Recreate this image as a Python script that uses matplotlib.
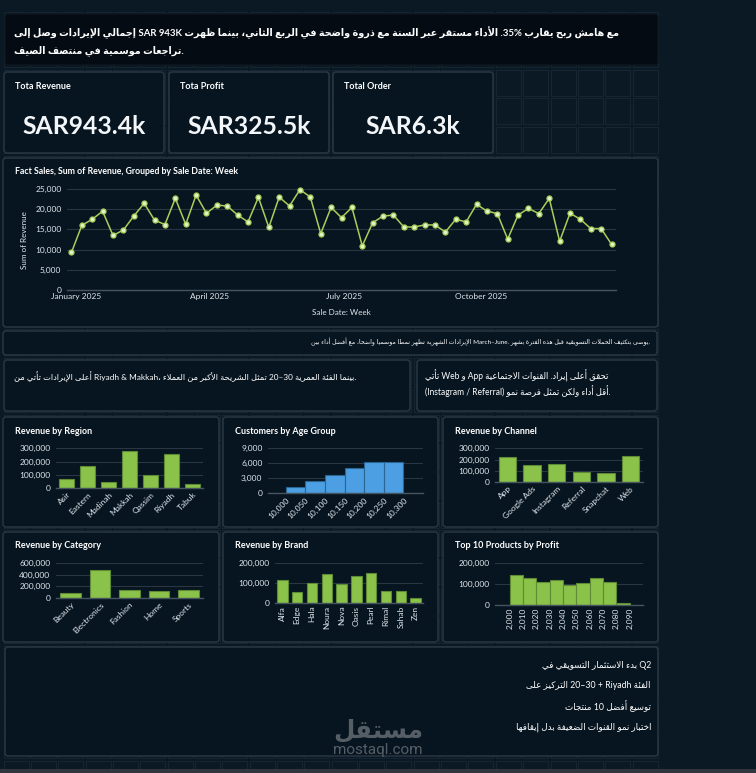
import re
import datetime as dt
import matplotlib
matplotlib.use('Agg')
import matplotlib.pyplot as plt
from matplotlib.patches import FancyBboxPatch, Rectangle
from matplotlib.ticker import FuncFormatter, MultipleLocator, FixedLocator

# ---------------- data ----------------
kpi_labels = ['Tota Revenue', 'Tota Profit', 'Total Order']
kpi_values = ['SAR943.4k', 'SAR325.5k', 'SAR6.3k']

first_week = dt.date(2024, 12, 29)
weekly_revenue = [9300, 16000, 17500, 19500, 13500, 14850, 18300, 21450, 17300, 16200,
                  22700, 16250, 23500, 19000, 21000, 20800, 18550, 16850, 22950, 15500,
                  23000, 20800, 24850, 23000, 13950, 20450, 17900, 20450, 10900, 16650,
                  18300, 18550, 15600, 15600, 16100, 16100, 14350, 17500, 16850, 21200,
                  19550, 18900, 12600, 18550, 20200, 18900, 22700, 12050, 19000, 17500,
                  15200, 15200, 11300]
month_ticks = [dt.date(2025, 1, 1), dt.date(2025, 4, 1), dt.date(2025, 7, 1), dt.date(2025, 10, 1)]
month_labels = ['January 2025', 'April 2025', 'July 2025', 'October 2025']

regions = ['Asir', 'Eastern', 'Madinah', 'Makkah', 'Qassim', 'Riyadh', 'Tabuk']
region_revenue = [67000, 167000, 47000, 282000, 100000, 255000, 35000]

age_bin_starts = [10000, 10050, 10100, 10150, 10200, 10250]
age_counts = [1250, 2500, 3750, 5000, 6300, 6300]
age_ticks = [10000, 10050, 10100, 10150, 10200, 10250, 10300]

channels = ['App', 'Google Ads', 'Instagram', 'Referral', 'Snapchat', 'Web']
channel_revenue = [220000, 154000, 163000, 89000, 83000, 228000]

categories = ['Beauty', 'Electronics', 'Fashion', 'Home', 'Sports']
category_revenue = [92000, 478000, 144000, 121000, 133000]

brands = ['Alfa', 'Edge', 'Hala', 'Noura', 'Nova', 'Oasis', 'Pearl', 'Rimal', 'Sahab', 'Zen']
brand_revenue = [114000, 54000, 101000, 146000, 97000, 136000, 151000, 60000, 60000, 24000]

product_bin_starts = [2000, 2010, 2020, 2030, 2040, 2050, 2060, 2070, 2080]
product_profit = [142000, 129000, 108000, 118000, 97000, 103000, 127000, 108000, 6500]
product_ticks = [2000, 2010, 2020, 2030, 2040, 2050, 2060, 2070, 2080, 2090]

header_lines = [
    "مع هامش ربح يقارب 35%. الأداء مستقر عبر السنة مع ذروة واضحة في الربع الثاني، بينما ظهرت SAR 943K إجمالي الإيرادات وصل إلى",
    ".تراجعات موسمية في منتصف الصيف",
]
note_line = ".يوصى بتكثيف الحملات التسويقية قبل هذه الفترة بشهر .March–June الإيرادات الشهرية تُظهر نمطًا موسميًا واضحًا، مع أفضل أداء بين"
region_note = ".بينما الفئة العمرية 20–30 تمثل الشريحة الأكبر من العملاء ،Riyadh & Makkah أعلى الإيرادات تأتي من"
channel_note = [
    "تحقق أعلى إيراد. القنوات الاجتماعية App و Web تأتي",
    ".أقل أداء ولكن تمثل فرصة نمو (Instagram / Referral)",
]
action_lines = [
    "Q2 بدء الاستثمار التسويقي في",
    "الفئة 20–30 + Riyadh التركيز على",
    "توسيع أفضل 10 منتجات",
    "اختبار نمو القنوات الضعيفة بدل إيقافها",
]
watermark_ar = "مستقل"
watermark_en = "mostaql.com"

# ---------------- Arabic shaping (presentation forms) ----------------
_letters = [chr(c) for c in range(0x0621, 0x063B)] + [chr(c) for c in range(0x0641, 0x064B)]
_right = set('آأؤإادذرزوىة')
AR_FORMS = {}
_cp = 0xFE80
for _ch in _letters:
    _n = 1 if _ch == 'ء' else (2 if _ch in _right else 4)
    AR_FORMS[_ch] = [_cp + i for i in range(_n)]
    _cp += _n
LAM_ALEF = {'آ': 0xFEF5, 'أ': 0xFEF7, 'إ': 0xFEF9, 'ا': 0xFEFB}
MIRROR = {'(': ')', ')': '('}


def _dual(c):
    return c in AR_FORMS and len(AR_FORMS[c]) == 4


def _joins(c):
    return c in AR_FORMS and len(AR_FORMS[c]) > 1


def shape(s):
    s = ''.join(c for c in s if not ('\u064b' <= c <= '\u0652'))
    out, i, n = [], 0, len(s)
    while i < n:
        c = s[i]
        if c not in AR_FORMS:
            out.append(c)
            i += 1
            continue
        jp = i > 0 and _dual(s[i - 1])
        if c == 'ل' and i + 1 < n and s[i + 1] in LAM_ALEF:
            out.append(chr(LAM_ALEF[s[i + 1]] + (1 if jp else 0)))
            i += 2
            continue
        nxt = s[i + 1] if i + 1 < n else ''
        f = AR_FORMS[c]
        jn = _dual(c) and _joins(nxt)
        if len(f) == 1:
            g = f[0]
        elif len(f) == 2:
            g = f[1] if jp else f[0]
        else:
            g = f[3] if (jp and jn) else f[2] if jn else f[1] if jp else f[0]
        out.append(chr(g))
        i += 1
    return ''.join(out)


LTR_RUN = re.compile(r'[A-Za-z0-9%][A-Za-z0-9%&/+:.\-–\s]*[A-Za-z0-9%]|[A-Za-z0-9%]')


def visual(text):
    """right-to-left display: latin / number runs keep their own order"""
    s = shape(text)
    parts, pos = [], 0
    for m in LTR_RUN.finditer(s):
        if m.start() > pos:
            parts.append(('R', s[pos:m.start()]))
        parts.append(('L', m.group()))
        pos = m.end()
    if pos < len(s):
        parts.append(('R', s[pos:]))
    out = []
    for kind, txt in reversed(parts):
        out.append(txt if kind == 'L' else ''.join(MIRROR.get(c, c) for c in reversed(txt)))
    return ''.join(out)


# ---------------- style ----------------
W, H = 756, 773
BG = '#0a1923'
CARD = '#071520'
EDGE = '#2b3946'
CELL = '#172632'
GRID = '#2a3743'
BASE = '#46545f'
TICK = '#dfe6ec'
GREEN = '#8bc34a'
GREEN_E = '#5e8a36'
BLUE = '#4c9fe3'
BLUE_E = '#2b6591'
LINE = '#a6cf5a'
LATIN = ['Lato', 'DejaVu Sans']
AR = ['Lato', 'DejaVu Sans']

plt.rcParams['font.family'] = LATIN

fig = plt.figure(figsize=(W / 100, H / 100), dpi=100, facecolor=BG)
bg = fig.add_axes([0, 0, 1, 1])
bg.set_xlim(0, W)
bg.set_ylim(H, 0)
bg.axis('off')
renderer = fig.canvas.get_renderer()

# edit-mode grid cells
for k in range(27):
    y = 11.9 + k * 28.8
    for j in range(24):
        x = 3.5 + j * 27.35
        bg.add_patch(Rectangle((x, y), 25, 26, fill=False, ec=CELL, lw=0.7, zorder=1))
bg.add_patch(Rectangle((0, 769), W, 4, fc='#30363c', ec='none', zorder=1))


def card(x0, y0, x1, y1, face=CARD, ec=EDGE):
    bg.add_patch(FancyBboxPatch((x0, y0), x1 - x0, y1 - y0,
                                boxstyle='round,pad=0,rounding_size=3',
                                fc=face, ec=ec, lw=1, zorder=2))


def fit(x, y, s, width, ha='left', weight='normal', color='white', family=AR, fs=None):
    t = bg.text(x, y, s, ha=ha, va='center', fontsize=fs or 8, fontweight=weight,
                color=color, family=family, zorder=5)
    if fs is None:
        w = t.get_window_extent(renderer).width
        t.set_fontsize(8 * width / w)
    return t


# header
card(5, 14, 658, 65, face='#050b12', ec='#0d1720')
t1 = fit(13.5, 32.5, visual(header_lines[0]), 608, weight='bold')
fit(13.5, 51, visual(header_lines[1]), None, weight='bold', fs=t1.get_fontsize())

# KPI cards
kpi_x = [(4, 164), (169, 329), (333, 493)]
for (x0, x1), lab, val in zip(kpi_x, kpi_labels, kpi_values):
    card(x0, 72, x1, 153)
    bg.text(x0 + 11, 86.5, lab, ha='left', va='center', fontsize=6.5, fontweight='bold',
            color='white', zorder=5)
    bg.text((x0 + x1) / 2, 126, val, ha='center', va='center', fontsize=17.8,
            fontweight='bold', color='#f3f6f8', zorder=5)

# line chart card
card(3, 158, 658, 327)
bg.text(15, 171.5, 'Fact Sales, Sum of Revenue, Grouped by Sale Date: Week', ha='left',
        va='center', fontsize=6.3, fontweight='bold', color='white', zorder=5)
bg.text(24.5, 240, 'Sum of Revenue', rotation=90, ha='center', va='center', fontsize=5.8,
        color=TICK, zorder=5)
bg.text(341, 312.7, 'Sale Date: Week', ha='center', va='center', fontsize=5.8,
        color=TICK, zorder=5)

# text cards
card(3, 331, 657, 355)
fit(650, 342, visual(note_line), 341, ha='right')
card(4, 360, 410, 411)
fit(14, 377.7, visual(region_note), 342)
card(417, 360, 657, 411)
t2 = fit(425, 391, visual(channel_note[1]), 187)
fit(425, 376, visual(channel_note[0]), None, fs=t2.get_fontsize())

# small chart cards
row_y = [(417, 527), (532, 642)]
col_x = [(3, 219), (223, 438), (443, 658)]
titles = [['Revenue by Region', 'Customers by Age Group', 'Revenue by Channel'],
          ['Revenue by Category', 'Revenue by Brand', 'Top 10 Products by Profit']]
for r, (y0, y1) in enumerate(row_y):
    for c, (x0, x1) in enumerate(col_x):
        card(x0, y0, x1, y1)
        bg.text(x0 + 12, y0 + 14, titles[r][c], ha='left', va='center', fontsize=6.5,
                fontweight='bold', color='white', zorder=5)

# bottom card
card(5, 647, 658, 756)
tb = fit(651, 686, visual(action_lines[1]), 124.5, ha='right')
for yy, line in zip([665, 686, 706, 727], action_lines):
    if line is not action_lines[1]:
        fit(651, yy, visual(line), None, ha='right', fs=tb.get_fontsize())
wm = fit(378, 730, visual(watermark_ar), 90, ha='center', weight='bold', color='#646b72')
wm.set_alpha(0.85)
wm2 = fit(378, 750, watermark_en, 90, ha='center', color='#646b72', family=['Roboto', 'DejaVu Sans'])
wm2.set_alpha(0.85)


# ---------------- chart axes ----------------
def px_axes(x0, y0, x1, y1):
    ax = fig.add_axes([x0 / W, 1 - y1 / H, (x1 - x0) / W, (y1 - y0) / H])
    ax.set_facecolor('none')
    for name, sp in ax.spines.items():
        sp.set_visible(name == 'bottom')
    ax.spines['bottom'].set_color(BASE)
    ax.spines['bottom'].set_linewidth(1)
    ax.tick_params(length=0, colors=TICK, labelsize=6, pad=2)
    ax.tick_params(axis='y', pad=4)
    ax.grid(axis='y', color=GRID, lw=0.8)
    ax.set_axisbelow(True)
    ax.yaxis.set_major_formatter(FuncFormatter(lambda v, p: f'{v:,.0f}'))
    return ax


# weekly line
weeks = [first_week + dt.timedelta(weeks=i) for i in range(len(weekly_revenue))]
ax = px_axes(67, 189, 616, 290)
ax.plot(weeks, weekly_revenue, color=LINE, lw=1.1, marker='o', ms=3.6,
        mfc='#e3f2c6', mec=LINE, mew=0.9, clip_on=False)
ax.set_ylim(0, 25000)
ax.yaxis.set_major_locator(MultipleLocator(5000))
ax.set_xlim(weeks[0] - dt.timedelta(days=3.8), weeks[-1] + dt.timedelta(days=3.8))
ax.set_xticks(month_ticks)
ax.set_xticklabels(month_labels)
ax.tick_params(labelsize=6)


def bar_panel(rect, labels, values, ymax, step, rot):
    a = px_axes(*rect)
    pos = list(range(len(labels)))
    a.bar(pos, values, width=0.7, color=GREEN, edgecolor=GREEN_E, lw=0.8)
    a.set_xlim(-0.5, len(labels) - 0.5)
    a.set_ylim(0, ymax)
    a.yaxis.set_major_locator(MultipleLocator(step))
    a.set_xticks(pos)
    if rot == 45:
        a.set_xticklabels(labels, rotation=45, ha='right', va='top', rotation_mode='anchor')
    else:
        a.set_xticklabels(labels, rotation=90, ha='center', va='top')
    return a


bar_panel((56, 448.3, 203, 488.3), regions, region_revenue, 300000, 100000, 45)
bar_panel((495, 448.3, 643, 482), channels, channel_revenue, 300000, 100000, 45)
bar_panel((56, 563.3, 203, 598), categories, category_revenue, 600000, 200000, 45)
bar_panel((275, 563.3, 423, 603), brands, brand_revenue, 200000, 100000, 90)

# age histogram
a = px_axes(268, 448.3, 423, 493.3)
a.bar(age_bin_starts, age_counts, width=50, align='edge', color=BLUE, edgecolor=BLUE_E, lw=0.8)
a.set_xlim(9955, 10350)
a.set_ylim(0, 9000)
a.yaxis.set_major_locator(MultipleLocator(3000))
a.xaxis.set_major_locator(FixedLocator(age_ticks))
a.xaxis.set_major_formatter(FuncFormatter(lambda v, p: f'{v:,.0f}'))
for lab in a.get_xticklabels():
    lab.set_rotation(45)
    lab.set_ha('right')
    lab.set_rotation_mode('anchor')

# top products histogram
a = px_axes(495, 563.3, 643, 604.7)
a.bar(product_bin_starts, product_profit, width=10, align='edge', color=GREEN,
      edgecolor=GREEN_E, lw=0.8)
a.set_xlim(1989, 2100)
a.set_ylim(0, 200000)
a.yaxis.set_major_locator(MultipleLocator(100000))
a.xaxis.set_major_locator(FixedLocator(product_ticks))
a.xaxis.set_major_formatter(FuncFormatter(lambda v, p: f'{v:,.0f}'))
for lab in a.get_xticklabels():
    lab.set_rotation(90)

fig.savefig('out.png', dpi=100, facecolor=BG)
